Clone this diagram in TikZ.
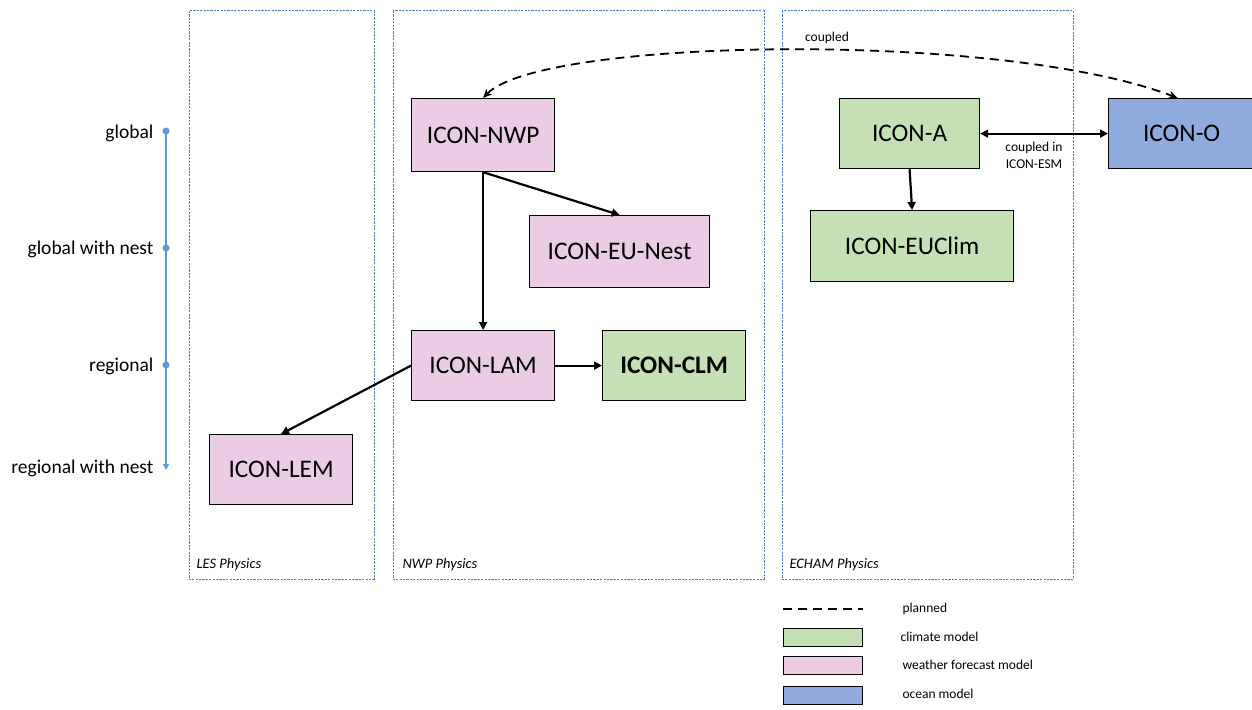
\documentclass[tikz,border=0pt]{standalone}
\usepackage{fontspec}
\setmainfont{Carlito}
\usetikzlibrary{arrows.meta}
\definecolor{pinkbox}{HTML}{EACCE4}
\definecolor{greenbox}{HTML}{C5E0B4}
\definecolor{bluebox}{HTML}{8FAADC}
\definecolor{panelc}{HTML}{4A7EBB}
\definecolor{axisc}{HTML}{5B9BD5}
\tikzset{
  panel/.style={draw=panelc, line width=1pt, dash pattern=on 2.2pt off 1.2pt},
  model/.style={draw=black, line width=1.2pt, anchor=north west, inner sep=0pt, font=\fontsize{25.3}{28}\selectfont},
  arr/.style={line width=2.2pt, -{Triangle[length=8pt,width=8pt]}},
  darr/.style={line width=2.2pt, {Triangle[length=8pt,width=8pt]}-{Triangle[length=8pt,width=8pt]}},
  axlab/.style={anchor=east, font=\fontsize{19.5}{22}\selectfont},
  small/.style={font=\fontsize{13.5}{17}\selectfont},
  panlab/.style={anchor=west, font=\fontsize{14.5}{16}\selectfont\itshape},
  dot/.style={circle, fill=axisc, inner sep=0pt, minimum size=7pt},
  legbox/.style={draw=black, line width=1.2pt, anchor=north west, minimum width=79pt, minimum height=18pt, inner sep=0pt}
}
\begin{document}
\begin{tikzpicture}[x=1pt,y=-1pt]
\useasboundingbox (0,0) rectangle (1252,709);
% panels
\draw[panel] (189,11) rectangle (374,579);
\draw[panel] (393,11) rectangle (764,579);
\draw[panel] (782,11) rectangle (1073,579);
\node[panlab] (les) at (193,565) {LES Physics};
\node[panlab] (nwpp) at (399,565) {NWP Physics};
\node[panlab] (echp) at (786,565) {ECHAM Physics};
% axis
\coordinate (ax0) at (166,131);
\coordinate (ax3) at (166,470);
\draw[axisc, line width=1.4pt, -{Triangle[length=6pt,width=6pt]}] (ax0) -- (ax3);
\node[dot] (d0) at (166,131) {};
\node[dot] (d1) at (166,248) {};
\node[dot] (d2) at (166,365) {};
\node[axlab] (l0) at (157,133) {global};
\node[axlab] (l1) at (157,249) {global with nest};
\node[axlab] (l2) at (157,366) {regional};
\node[axlab] (l3) at (157,468) {regional with nest};
% models
\node[model, fill=pinkbox, minimum width=143pt, minimum height=73pt] (nwp) at (411,98) {ICON-NWP};
\node[model, fill=pinkbox, minimum width=180pt, minimum height=72pt] (eun) at (529,215) {ICON-EU-Nest};
\node[model, fill=pinkbox, minimum width=143pt, minimum height=70pt] (lam) at (411,330) {ICON-LAM};
\node[model, fill=greenbox, minimum width=143pt, minimum height=70pt, font=\fontsize{25.3}{28}\selectfont\bfseries] (clm) at (602,330) {ICON-CLM};
\node[model, fill=pinkbox, minimum width=143pt, minimum height=70pt] (lem) at (209,434) {ICON-LEM};
\node[model, fill=greenbox, minimum width=140pt, minimum height=70pt] (icona) at (839,98) {ICON-A};
\node[model, fill=greenbox, minimum width=203pt, minimum height=71pt] (euclim) at (810,210) {ICON-EUClim};
\node[model, fill=bluebox, minimum width=146pt, minimum height=70pt] (icono) at (1108,98) {ICON-O};
% connectors
\draw[arr] (nwp.south) -- (lam.north);
\draw[arr] (nwp.south) -- (eun.north);
\draw[arr] (lam.east) -- (clm.west);
\draw[arr] (lam.west) -- (lem.north);
\draw[arr] (icona.south) -- (euclim.north);
\draw[darr] (icona.east) -- (icono.west);
\node[small, align=center] (cesm) at (1034,155) {coupled in\\ICON-ESM};
\draw[line width=1.8pt, dash pattern=on 9pt off 6pt, {Stealth[length=9pt,width=8pt]}-{Stealth[length=9pt,width=8pt]}]
  (nwp.north) .. controls (540,38) and (1000,30) .. ([xshift=-4pt]icono.north);
\node[small] (coupled) at (827,38) {coupled};
% legend
\coordinate (lg0) at (783,609);
\coordinate (lg1) at (863,609);
\draw[line width=1.8pt, dash pattern=on 9pt off 6pt] (lg0) -- (lg1);
\node[small, anchor=west] (lgt0) at (899,609) {planned};
\node[legbox, fill=greenbox] (lgb1) at (783,628) {};
\node[small, anchor=west] (lgt1) at (897,637) {climate model};
\node[legbox, fill=pinkbox] (lgb2) at (783,656) {};
\node[small, anchor=west] (lgt2) at (899,665) {weather forecast model};
\node[legbox, fill=bluebox] (lgb3) at (783,686) {};
\node[small, anchor=west] (lgt3) at (899,694) {ocean model};
\end{tikzpicture}
\end{document}
